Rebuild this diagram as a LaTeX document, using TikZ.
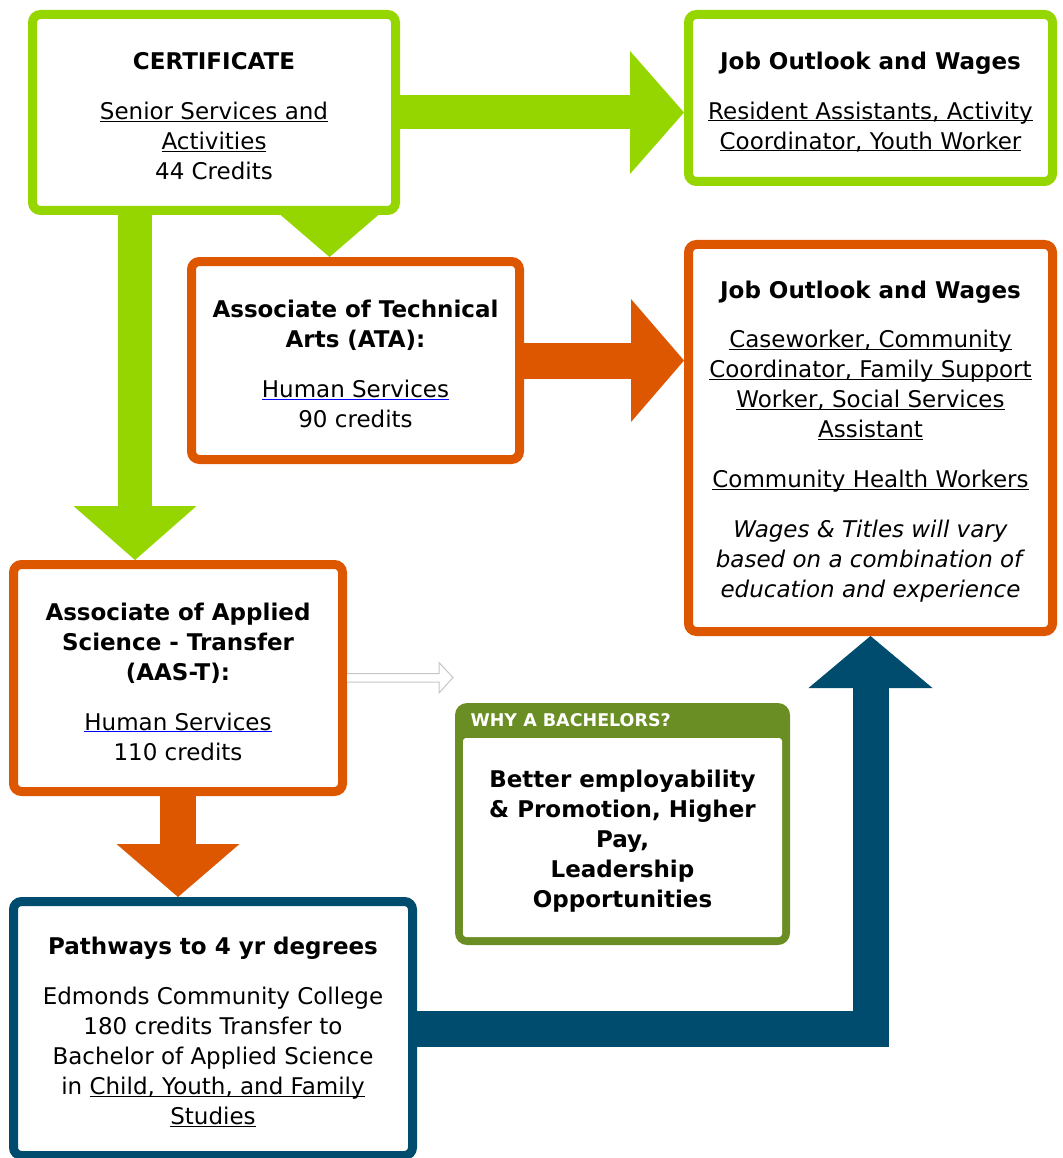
\documentclass[tikz,border=0pt]{standalone}
\usepackage{fontspec}
\setmainfont{DejaVu Sans}
\usepackage{tikz}
\usetikzlibrary{arrows.meta,backgrounds}

\definecolor{limegrn}{RGB}{150,214,0}
\definecolor{burnt}{RGB}{221,87,0}
\definecolor{deepblue}{RGB}{0,76,110}
\definecolor{olivegrn}{RGB}{106,142,35}

\newcommand{\lnk}[1]{\underline{\smash{#1}}}
\newcommand{\hlnk}[1]{{\color{blue}\underline{\smash{\color{black}#1}}}}
\newcommand{\hstrut}{\rule{0pt}{24.5pt}}

\begin{document}
\begin{tikzpicture}[x=1pt, y=-1pt,
            box/.style={draw, line width=9pt, rounded corners=8pt, fill=white, inner sep=0pt,
                        align=center, font=\fontsize{23pt}{30pt}\selectfont},
            grnarrow/.style={draw=limegrn, line width=34pt, -{Triangle[length=54pt, width=123pt, line width=0pt]}},
            grnhead/.style={draw=limegrn, line width=1pt, -{Triangle[length=43pt, width=100pt, line width=0pt]}},
            orgarrow/.style={draw=burnt, line width=36pt, -{Triangle[length=53pt, width=123pt, line width=0pt]}},
            bluarrow/.style={draw=deepblue, line width=36pt, line join=miter, -{Triangle[length=52pt, width=124pt, line width=0pt]}},
            hollow/.style={draw=gray!45, fill=white, line width=1pt},]

        \useasboundingbox (0,0) rectangle (1062,1158);

        % Nodes certificado
        \node[box, draw=limegrn, minimum width=363pt, minimum height=196pt] (cert) at (214,112.5)
            {\hstrut\textbf{CERTIFICATE}\\[20pt]\lnk{Senior Services and}\\\lnk{Activities}\\44 Credits};
        \node[box, draw=limegrn, minimum width=364pt, minimum height=167pt] (job1) at (870.5,98)
            {\hstrut\textbf{Job Outlook and Wages}\\[20pt]\lnk{Resident Assistants, Activity}\\\lnk{Coordinator, Youth Worker}};

        % Nodes associate
        \node[box, draw=burnt, minimum width=328pt, minimum height=198pt] (ata) at (355.5,360.5)
            {\hstrut\textbf{Associate of Technical}\\\textbf{Arts (ATA):}\\[20pt]\hlnk{Human Services}\\90 credits};
        \node[box, draw=burnt, minimum width=364pt, minimum height=387pt] (job2) at (870.5,438)
            {\hstrut\textbf{Job Outlook and Wages}\\[19pt]\lnk{Caseworker, Community}\\\lnk{Coordinator, Family Support}\\
             \lnk{Worker, Social Services}\\\lnk{Assistant}\\[20pt]\lnk{Community Health Workers}\\[20pt]
             \textit{Wages \& Titles will vary}\\\textit{based on a combination of}\\\textit{education and experience}};
        \node[box, draw=burnt, minimum width=329pt, minimum height=227pt] (aas) at (178,678)
            {\hstrut\textbf{Associate of Applied}\\\textbf{Science - Transfer}\\\textbf{(AAS-T):}\\[20pt]\hlnk{Human Services}\\110 credits};

        % Nodes bachelor
        \node[box, draw=deepblue, minimum width=399pt, minimum height=254pt] (path) at (213,1028.5)
            {\hstrut\textbf{Pathways to 4 yr degrees}\\[20pt]Edmonds Community College\\180 credits Transfer to\\
             Bachelor of Applied Science\\in \lnk{Child, Youth, and Family}\\\lnk{Studies}};

        \node[fill=olivegrn, rounded corners=12pt, minimum width=335pt, minimum height=242pt, inner sep=0pt] (why) at (622.5,824) {};
        \node[fill=white, rounded corners=3pt, minimum width=319pt, minimum height=199pt, inner sep=0pt,
              align=center, font=\bfseries\fontsize{23pt}{30pt}\selectfont] (whybody) at (622.5,837.5)
            {\hstrut Better employability\\\& Promotion, Higher\\Pay,\\Leadership\\Opportunities};
        \node[anchor=west, text=white, font=\bfseries\fontsize{17.5pt}{20pt}\selectfont] (whyhead) at (467,720) {WHY A BACHELORS?};

        \coordinate (nudge) at (453,677.5);

        \begin{scope}[on background layer]
            \draw[grnarrow] (cert.east) -- (cert.east -| job1.west);
            \draw[grnhead] ([xshift=-26pt]ata.north |- cert.center) -- ([xshift=-26pt]ata.north);
            \draw[grnarrow] ([xshift=-43pt]aas.north |- cert.center) -- ([xshift=-43pt]aas.north);
            \draw[orgarrow] (ata.east) -- (ata.east -| job2.west);
            \draw[orgarrow] (aas.south) -- (aas.south |- path.north);
            \draw[bluarrow] (path.center) -- (path.east) -| (job2.south);
        \end{scope}

        \draw[hollow] (aas.east) ++(0,-4.5) -- ++(92,0) -- ++(0,-11) -- (nudge) -- ++(-14,15.5) -- ++(0,-11) -- ++(-92,0);
    \end{tikzpicture}
\end{document}
